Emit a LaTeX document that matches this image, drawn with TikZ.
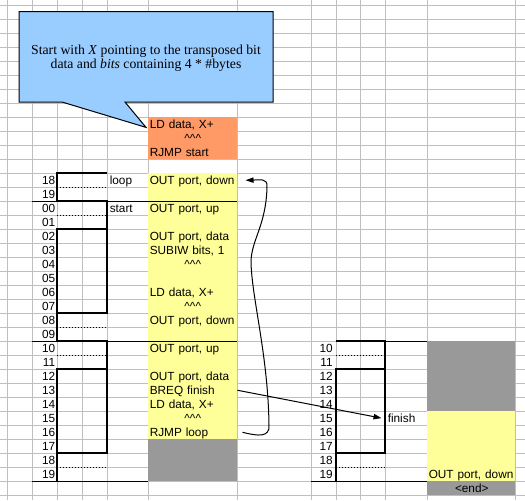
\documentclass[tikz,border=0pt]{standalone}
\usepackage{fontspec}
\setmainfont{Liberation Sans}
\newfontfamily\notefont{Liberation Serif}
\usetikzlibrary{arrows.meta}
\definecolor{cellyellow}{HTML}{FFFF99}
\definecolor{cellorange}{HTML}{FF9966}
\definecolor{cellgray}{HTML}{999999}
\definecolor{noteblue}{HTML}{99CCFF}
\newcommand{\carets}{\textasciicircum\textasciicircum\textasciicircum}

\begin{document}
\begin{tikzpicture}[
    x=0.75pt, y=-10.5pt,
    gridline/.style={draw=black!25, line width=0.6pt},
    rule/.style={draw=black, line width=0.6pt},
    wave/.style={draw=black, line width=1.4pt},
    half/.style={draw=black, line width=0.75pt, dash pattern=on 0.75pt off 1.5pt},
    code/.style={anchor=north west, inner xsep=1.125pt, inner ysep=0pt, text width=64.5pt, align=left, text height=8.475pt, text depth=2.025pt, font=\fontsize{8.85}{10.5}\selectfont},
    caretcode/.style={code, align=center},
    num/.style={anchor=base east, inner sep=0pt, font=\fontsize{8.85}{10.5}\selectfont},
    lbl/.style={anchor=base west, inner sep=0pt, font=\fontsize{8.85}{10.5}\selectfont},
    note/.style={align=center, inner sep=0pt, font=\notefont\fontsize{10.3}{10.7}\selectfont},
    callout/.style={draw=black, line width=0.75pt, fill=noteblue},
    arrow/.style={-{Triangle[length=6pt,width=4pt]}, line width=0.75pt}
]

    % Sheet
    \useasboundingbox (0,-0.357) rectangle (525,35.357);
    \fill[white] (0,-0.357) rectangle (525,35.357);
    \foreach \r in {0,...,35}
        \draw[gridline] (0,\r) -- (525,\r);
    \foreach \c in {7,32,57,82,107,148,237,311,336,360,385,427,515}
        \draw[gridline] (\c,-0.357) -- (\c,35.357);

    % Cells
    \fill[cellorange] (148,8) rectangle (237,11);
    \fill[cellyellow] (148,12) rectangle (237,31);
    \fill[cellgray] (148,31) rectangle (237,34);
    \fill[cellgray] (427,24) rectangle (515,29);
    \fill[cellyellow] (427,29) rectangle (515,34);
    \fill[cellgray] (427,34) rectangle (515,35);

    % Row numbers
    \foreach \r [evaluate=\r as \n using {int(mod(\r+6,20))}] in {12,...,33}
        \node[num] (nl\r) at (55.5,\r.81) {\ifnum\n<10 0\fi\n};
    \foreach \r [evaluate=\r as \n using {int(mod(\r+6,20))}] in {24,...,33}
        \node[num] (nr\r) at (333,\r.81) {\n};

    % Signal
    \draw[rule] (32,14) -- (237,14);
    \draw[rule] (32,24) -- (237,24);
    \draw[rule] (32,34) -- (148,34);
    \draw[wave] (107,12) -- (57,12) -- (57,14) -- (107,14) -- (107,16);
    \draw[wave] (57,16) rectangle (107,22);
    \draw[wave] (57,22) -- (57,24) -- (107,24) -- (107,26);
    \draw[wave] (57,26) rectangle (107,32);
    \draw[wave] (57,32) -- (57,34);
    \foreach \r in {13,15,23,25,33}
        \draw[half] (57,\r) -- (107,\r);

    \draw[rule] (385,24) -- (427,24);
    \draw[rule] (311,34) -- (427,34);
    \draw[wave] (336,24) -- (385,24) -- (385,26);
    \draw[wave] (336,26) rectangle (385,32);
    \draw[wave] (336,32) -- (336,34);
    \foreach \r in {25,33}
        \draw[half] (336,\r) -- (385,\r);

    % Code
    \foreach \r/\t in {8/{LD data, X+}, 10/{RJMP start}, 12/{OUT port, down},
        14/{OUT port, up}, 16/{OUT port, data}, 17/{SUBIW bits, 1},
        20/{LD data, X+}, 22/{OUT port, down}, 24/{OUT port, up},
        26/{OUT port, data}, 27/{BREQ finish}, 28/{LD data, X+}, 30/{RJMP loop}}
        \node[code] (c\r) at (148,\r) {\mbox{\t}};
    \foreach \r in {9,18,21,29}
        \node[caretcode] (c\r) at (148,\r) {\carets};
    \node[code] (down) at (427,33) {\mbox{OUT port, down}};
    \node[caretcode] (end) at (427,34) {<end>};

    % Labels
    \node[lbl] (loop) at (109.5,12.81) {loop};
    \node[lbl] (start) at (109.5,14.81) {start};
    \node[lbl] (finish) at (387.5,29.81) {finish};

    % Note
    \draw[callout] (19,0.48) -- (273,0.48) -- (273,6.93) -- (125,6.93)
        -- (146,8.74) -- (62,6.93) -- (19,6.93) -- cycle;
    \node[note] (note) at (146,3.78)
        {Start with \textit{X} pointing to the transposed bit\\
         data and \textit{bits} containing 4 * \#bytes};

    % Arrows
    \draw[arrow] (c27.east) -- ([xshift=-4.5pt]finish.west);
    \draw[arrow] ([xshift=3.75pt]c30.east) .. controls (258,30.8) and (270,30.9) .. (269,30)
        .. controls (268,25) and (252,21) .. (251,18.4)
        .. controls (251,16.8) and (266,15.8) .. (267,13)
        .. controls (268,12.3) and (258,12.5) .. ([xshift=6pt]c12.east);

\end{tikzpicture}
\end{document}
